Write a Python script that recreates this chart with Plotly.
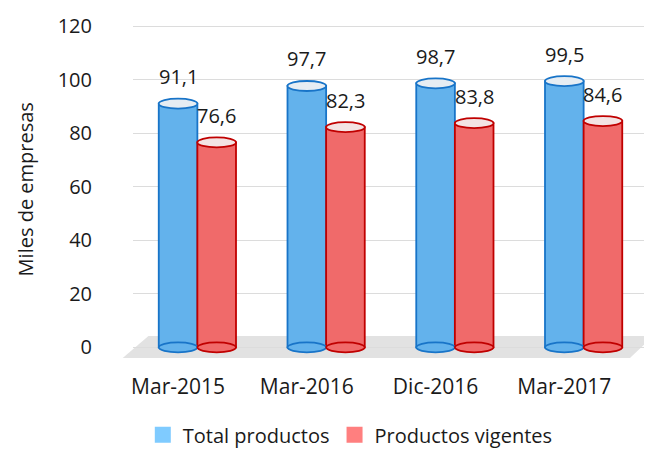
import plotly.graph_objects as go

categories = ["Mar-2015", "Mar-2016", "Dic-2016", "Mar-2017"]
total_productos = [91.1, 97.7, 98.7, 99.5]
productos_vigentes = [76.6, 82.3, 83.8, 84.6]
y_ticks = [0, 20, 40, 60, 80, 100, 120]

series = [
    dict(name="Total productos", values=total_productos, fill="#63B2EC",
         line="#1874C8", top="#E6EDF3", legend="#7FCBFF", offset=-0.3),
    dict(name="Productos vigentes", values=productos_vigentes, fill="#F06A6A",
         line="#C00000", top="#F3E3E3", legend="#FF7F7F", offset=0.0),
]
W = 0.3
FONT = "Open Sans"
TXT = "#1a1a1a"

fig = go.Figure()
shapes = []
annotations = []

# floor
shapes.append(dict(type="path", xref="paper", yref="paper", layer="below",
                   path="M -0.02 0 L 0.965 0 L 1.01 0.065 L 0.03 0.065 Z",
                   fillcolor="#E2E2E2", line=dict(width=0)))

for s in series:
    fig.add_trace(go.Bar(
        x=list(range(len(categories))), y=s["values"], width=W, offset=s["offset"],
        marker=dict(color=s["fill"], line=dict(color=s["line"], width=1.8)),
        showlegend=False, hoverinfo="skip"))
    fig.add_trace(go.Scatter(
        x=[None], y=[None], mode="markers", name=s["name"],
        marker=dict(symbol="square", size=16, color=s["legend"])))
    for i, v in enumerate(s["values"]):
        x0 = i + s["offset"]
        x1 = x0 + W
        shapes.append(dict(type="circle", xref="x", yref="y", ysizemode="pixel",
                           yanchor=0, y0=-5, y1=5, x0=x0, x1=x1,
                           fillcolor=s["fill"], line=dict(color=s["line"], width=1.8)))
        shapes.append(dict(type="circle", xref="x", yref="y", ysizemode="pixel",
                           yanchor=v, y0=-5, y1=5, x0=x0, x1=x1,
                           fillcolor=s["top"], line=dict(color=s["line"], width=1.8)))
        annotations.append(dict(x=(x0 + x1) / 2, y=v, xref="x", yref="y",
                                text=f"{v:.1f}".replace(".", ","), showarrow=False,
                                yshift=27, font=dict(family=FONT, size=20, color=TXT)))

annotations.append(dict(text="Miles de empresas", textangle=-90, xref="paper", yref="paper",
                        x=-0.208, xanchor="center", y=0.5, showarrow=False,
                        font=dict(family=FONT, size=20, color=TXT)))

fig.update_layout(
    width=652, height=454,
    margin=dict(l=125, r=12, t=13, b=104, autoexpand=False),
    plot_bgcolor="white", paper_bgcolor="white",
    shapes=shapes, annotations=annotations,
    xaxis=dict(tickmode="array", tickvals=[i - 0.15 for i in range(len(categories))],
               ticktext=categories,
               range=[-0.5, len(categories) - 0.5], showgrid=False, zeroline=False,
               showline=False, ticks="", ticklabelstandoff=14,
               tickfont=dict(family=FONT, size=21, color=TXT)),
    yaxis=dict(range=[-4, 122], tickvals=y_ticks, showgrid=True, gridcolor="#DCDCDC",
               gridwidth=1, zeroline=False, showline=False, ticks="",
               ticklabelstandoff=40,
               tickfont=dict(family=FONT, size=20, color=TXT)),
    legend=dict(orientation="h", xref="container", yref="container",
                x=0.525, xanchor="center", y=0.06, yanchor="middle",
                font=dict(family=FONT, size=20, color=TXT), itemwidth=30,
                traceorder="normal"),
)

fig.write_html("out.html")
